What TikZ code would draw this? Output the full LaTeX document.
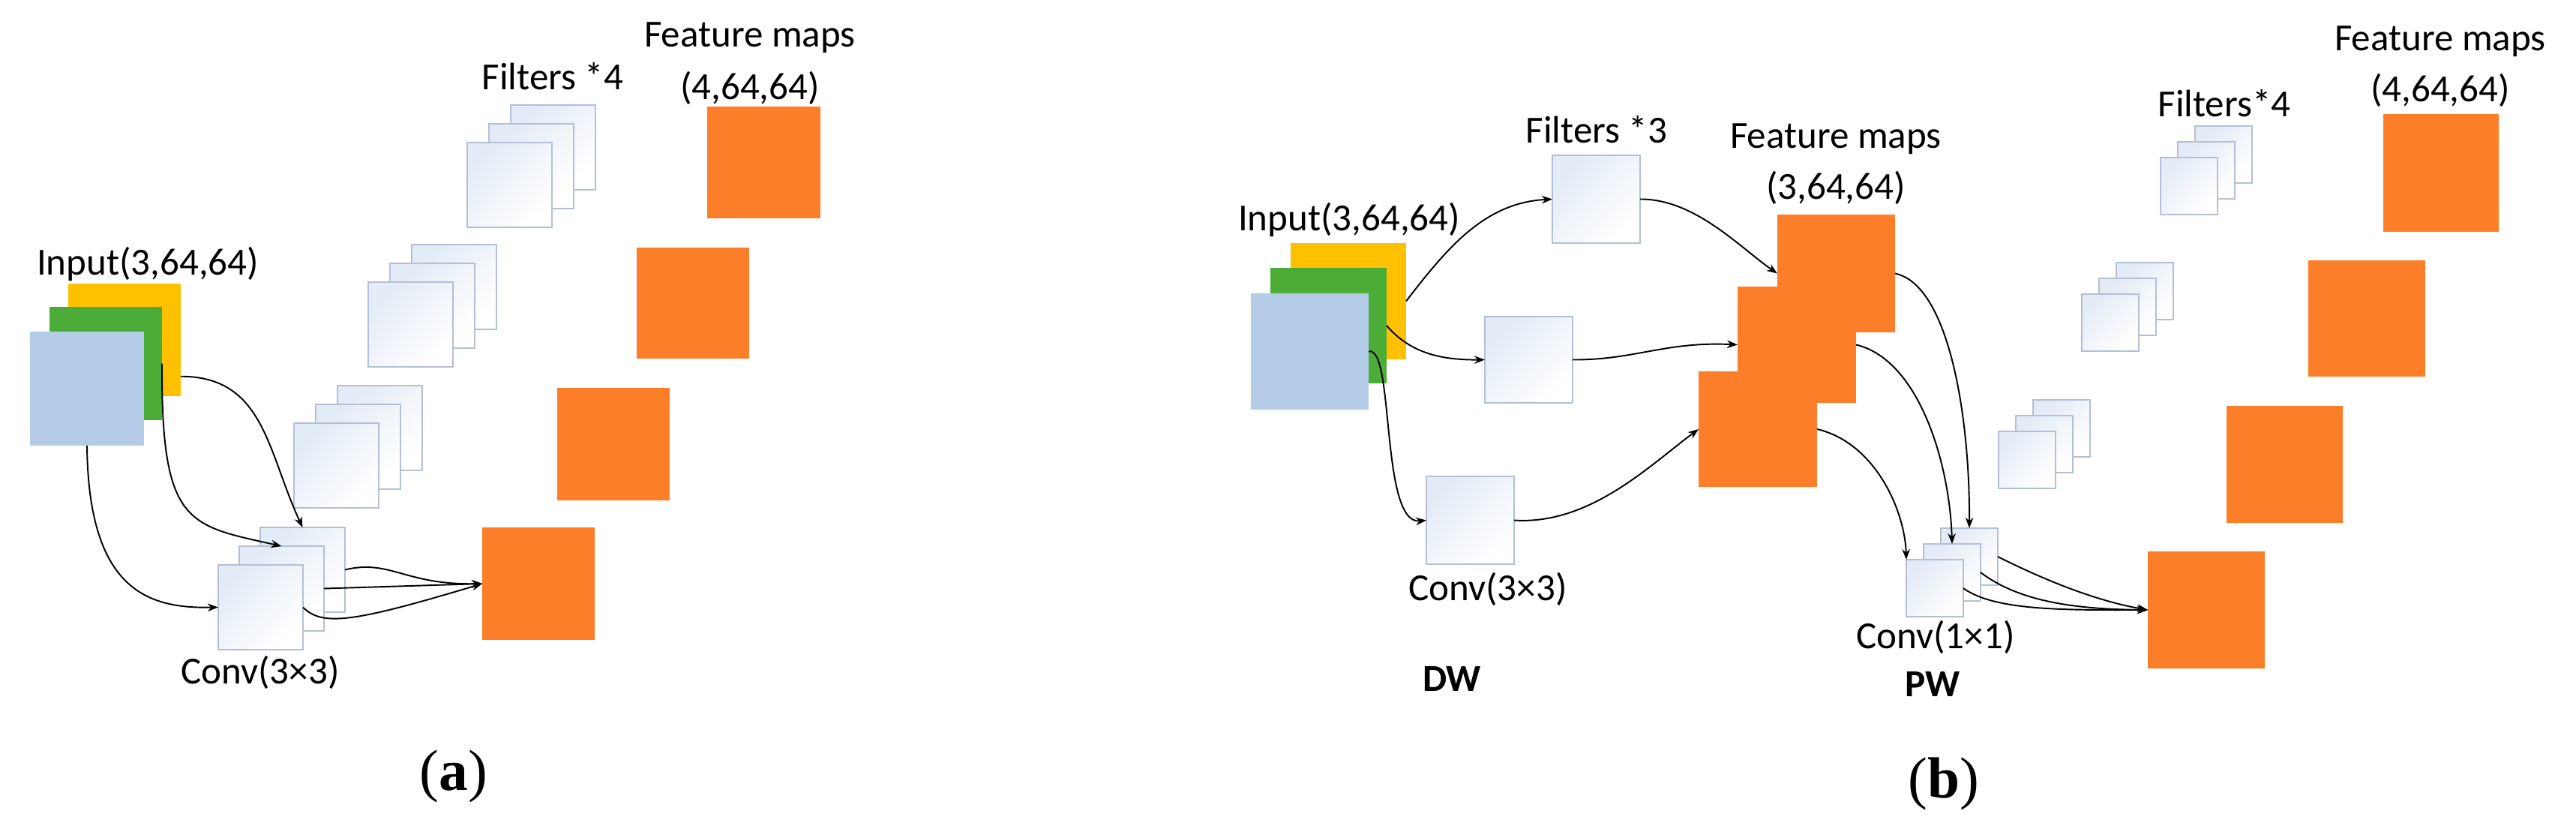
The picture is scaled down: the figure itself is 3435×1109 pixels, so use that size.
\documentclass[tikz,border=0pt]{standalone}
\usepackage{fontspec}
\setmainfont{Carlito}
\newfontfamily\serifb{Liberation Serif}
\usetikzlibrary{fit,arrows.meta}
\definecolor{orng}{RGB}{253,126,40}
\definecolor{yel}{RGB}{255,192,0}
\definecolor{grn}{RGB}{76,172,56}
\definecolor{lblue}{RGB}{180,204,232}
\definecolor{fedge}{RGB}{180,192,210}
\definecolor{fsh}{RGB}{214,226,242}
\tikzset{
  box/.style={inner sep=0pt, outer sep=0pt},
  fm/.style={box, fill=orng, draw=none},
  filt/.style={box, draw=fedge, line width=0.5pt, top color=fsh!70, bottom color=white, shading angle=45},
  lab/.style={font=\fontsize{14.5}{16}\selectfont, inner sep=0pt},
  subcap/.style={font=\serifb\fontsize{22}{24}\selectfont, inner sep=0pt},
  arr/.style={-{Stealth[length=4pt,width=3pt]}, line width=0.55pt, black},
}
\newcommand{\bx}[6]{\node[#1, fit={(#3,#4)(#5,#6)}] (#2) {};}
% stack: prefix, front x, front y, size, dx, dy
\newcommand{\stk}[6]{%
  \bx{filt}{#1b}{#2+2*#5}{#3+2*#6}{#2+2*#5+#4}{#3+2*#6+#4}
  \bx{filt}{#1m}{#2+#5}{#3+#6}{#2+#5+#4}{#3+#6+#4}
  \bx{filt}{#1f}{#2}{#3}{#2+#4}{#3+#4}}
\begin{document}
\begin{tikzpicture}[x=0.01cm,y=-0.01cm]
\useasboundingbox (0,0) rectangle (3435,1109);
% ---------- (a) ----------
\bx{box,fill=yel}{ay}{91}{378}{241}{528}
\bx{box,fill=grn}{ag}{66}{409}{216}{560}
\bx{box,fill=lblue}{ab}{40}{442}{192}{594}
\node[lab] (ainp) at (197,352) {Input(3,64,64)};
\stk{as1}{623}{190}{113}{29}{-25}
\stk{as2}{491}{376}{113}{29}{-25}
\stk{as3}{392}{564}{113}{29}{-25}
\stk{ac}{291}{753}{113}{28}{-25}
\node[lab] (afil) at (737,102) {Filters *4};
\bx{fm}{ao1}{943}{142}{1094}{291}
\bx{fm}{ao2}{849}{330}{999}{478}
\bx{fm}{ao3}{743}{517}{893}{667}
\bx{fm}{ao4}{643}{703}{793}{853}
\node[lab] (afm1) at (1000,50) {Feature maps};
\node[lab] (afm2) at (1000,117) {(4,64,64)};
\node[lab] (aconv) at (347,896) {Conv(3×3)};
\node[subcap] (acap) at (605,1035) {(\textbf{a})};
\draw[arr] (ay.-33) to[out=0,in=115,looseness=1.1] (acb.north);
\draw[arr] (ag.east) .. controls (215,700) and (250,700) .. (acm.north);
\draw[arr] (ab.south) .. controls (118,790) and (200,811) .. (acf.west);
\draw[arr] (acb.east) .. controls (520,745) and (540,780) .. (ao4.west);
\draw[arr] (acm.east) -- (ao4.west);
\draw[arr] (acf.east) .. controls (430,835) and (470,830) .. (ao4.west);
% ---------- (b) ----------
\bx{box,fill=yel}{by}{1721}{324}{1875}{479}
\bx{box,fill=grn}{bg}{1694}{357}{1849}{511}
\bx{box,fill=lblue}{bb}{1668}{391}{1825}{546}
\node[lab] (binp) at (1799,293) {Input(3,64,64)};
\bx{filt}{bf1}{2070}{207}{2187}{324}
\bx{filt}{bf2}{1980}{422}{2097}{537}
\bx{filt}{bf3}{1902}{635}{2019}{752}
\node[lab] (bfil) at (2129,173) {Filters *3};
\node[lab] (bconv) at (1984,785) {Conv(3×3)};
\node[lab,font=\bfseries\fontsize{14.5}{16}\selectfont] (bdw) at (1936,905) {DW};
\bx{fm}{bm1}{2370}{286}{2527}{443}
\bx{fm}{bm2}{2317}{382}{2475}{537}
\bx{fm}{bm3}{2265}{495}{2423}{649}
\node[lab] (bfm1) at (2448,185) {Feature maps};
\node[lab] (bfm2) at (2448,250) {(3,64,64)};
\stk{bs1}{2881}{210}{76}{23}{-21}
\stk{bs2}{2776}{392}{76}{23}{-21}
\stk{bs3}{2665}{575}{76}{23}{-21}
\stk{bc}{2542}{746}{76}{23}{-21}
\node[lab] (bfil4) at (2966,138) {Filters*4};
\node[lab] (bconv1) at (2581,849) {Conv(1×1)};
\node[lab,font=\bfseries\fontsize{14.5}{16}\selectfont] (bpw) at (2577,912) {PW};
\bx{fm}{bo1}{3178}{152}{3332}{309}
\bx{fm}{bo2}{3078}{347}{3234}{502}
\bx{fm}{bo3}{2969}{541}{3124}{697}
\bx{fm}{bo4}{2864}{735}{3020}{891}
\node[lab] (bfm3) at (3254,55) {Feature maps};
\node[lab] (bfm4) at (3254,120) {(4,64,64)};
\node[subcap] (bcap) at (2592,1045) {(\textbf{b})};
\draw[arr] (by.east) .. controls (1930,330) and (1980,270) .. (bf1.west);
\draw[arr] (bg.east) .. controls (1880,470) and (1920,480) .. (bf2.west);
\draw[arr] (bb.east) .. controls (1860,460) and (1840,700) .. (bf3.west);
\draw[arr] (bf1.east) .. controls (2260,265) and (2320,330) .. (bm1.west);
\draw[arr] (bf2.east) .. controls (2180,480) and (2220,455) .. (bm2.west);
\draw[arr] (bf3.east) .. controls (2120,700) and (2200,620) .. (bm3.west);
\draw[arr] (bm1.east) .. controls (2600,380) and (2627,560) .. (bcb.north);
\draw[arr] (bm2.east) .. controls (2560,480) and (2600,620) .. (bcm.north);
\draw[arr] (bm3.east) .. controls (2500,590) and (2540,680) .. (bcf.north west);
\draw[arr] (bcb.east) .. controls (2720,770) and (2790,800) .. (bo4.west);
\draw[arr] (bcm.east) .. controls (2690,800) and (2760,812) .. (bo4.west);
\draw[arr] (bcf.east) .. controls (2660,815) and (2760,813) .. (bo4.west);
\end{tikzpicture}
\end{document}
